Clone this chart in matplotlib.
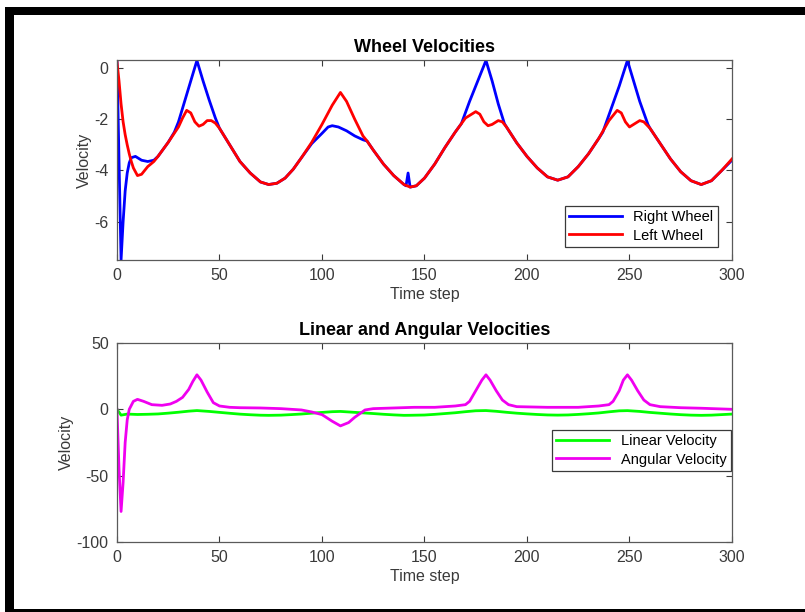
import matplotlib
matplotlib.use('Agg')
from matplotlib import pyplot as plt
from matplotlib.patches import Rectangle

# wheel velocities
t_left = [0, 1, 2, 3, 4, 5, 6, 7, 8, 10, 12, 15, 18, 20, 25, 30, 32, 34, 36, 38,
          40, 42, 44, 46, 48, 50, 55, 60, 65, 70, 74, 78, 82, 86, 90, 95, 100,
          105, 109, 112, 116, 120, 122, 125, 130, 135, 140, 143, 146, 150, 155,
          160, 165, 170, 175, 177, 179, 181, 183, 186, 188, 190, 195, 200, 205,
          210, 215, 220, 225, 230, 235, 240, 244, 246, 248, 250, 252, 255, 257,
          260, 265, 270, 275, 280, 285, 290, 295, 300]
v_left = [0.25, -0.5, -1.4, -2.1, -2.6, -3.0, -3.35, -3.65, -3.9, -4.2, -4.15,
          -3.85, -3.65, -3.45, -2.9, -2.3, -1.95, -1.65, -1.75, -2.1, -2.27,
          -2.2, -2.05, -2.05, -2.15, -2.35, -3.0, -3.65, -4.1, -4.45, -4.55,
          -4.5, -4.3, -3.95, -3.5, -2.9, -2.2, -1.45, -0.95, -1.3, -2.0, -2.65,
          -2.85, -3.2, -3.75, -4.2, -4.55, -4.65, -4.6, -4.3, -3.75, -3.1,
          -2.5, -1.95, -1.7, -1.8, -2.1, -2.25, -2.2, -2.05, -2.1, -2.3,
          -2.92, -3.45, -3.9, -4.25, -4.38, -4.25, -3.85, -3.35, -2.75, -2.05,
          -1.65, -1.75, -2.1, -2.3, -2.2, -2.05, -2.1, -2.35, -2.95, -3.55,
          -4.05, -4.4, -4.55, -4.4, -4.0, -3.55]

t_right = [0, 2, 3, 4, 5, 6, 7, 9, 12, 15, 18, 20, 25, 28, 30, 33, 36, 39, 42,
           45, 48, 50, 55, 60, 65, 70, 74, 78, 82, 86, 90, 95, 100, 103, 105,
           108, 112, 116, 120, 122, 125, 130, 135, 140, 141, 142, 143, 146,
           150, 155, 160, 165, 168, 172, 176, 180, 183, 186, 189, 190, 195,
           200, 205, 210, 215, 220, 225, 230, 235, 237, 241, 245, 249, 252,
           255, 259, 260, 265, 270, 275, 280, 285, 290, 295, 300]
v_right = [0.3, -7.5, -6.0, -4.8, -4.1, -3.7, -3.5, -3.45, -3.6, -3.65, -3.6,
           -3.45, -2.9, -2.5, -2.1, -1.3, -0.5, 0.3, -0.5, -1.25, -1.95,
           -2.35, -3.0, -3.65, -4.1, -4.45, -4.55, -4.5, -4.3, -3.95, -3.5,
           -2.95, -2.55, -2.3, -2.25, -2.3, -2.45, -2.65, -2.8, -2.85, -3.2,
           -3.75, -4.2, -4.55, -4.6, -4.1, -4.65, -4.6, -4.3, -3.75, -3.1,
           -2.5, -2.17, -1.3, -0.5, 0.3, -0.5, -1.4, -2.17, -2.3, -2.92,
           -3.45, -3.9, -4.25, -4.38, -4.25, -3.85, -3.35, -2.75, -2.5, -1.6,
           -0.7, 0.3, -0.5, -1.3, -2.2, -2.35, -2.95, -3.55, -4.05, -4.4,
           -4.55, -4.4, -4.0, -3.6]

# linear / angular velocities
t_lin = [0, 2, 5, 10, 15, 20, 25, 30, 35, 39, 45, 50, 55, 60, 65, 70, 74, 80,
         85, 90, 95, 100, 105, 109, 115, 120, 125, 130, 135, 140, 143, 150,
         155, 160, 165, 170, 175, 180, 185, 190, 195, 200, 205, 210, 215, 220,
         225, 230, 235, 240, 245, 249, 255, 260, 265, 270, 275, 280, 285, 290,
         295, 300]
v_lin = [0, -4.4, -3.6, -3.9, -3.75, -3.5, -2.9, -2.2, -1.4, -0.95, -1.6,
         -2.3, -3.0, -3.65, -4.1, -4.45, -4.55, -4.4, -4.0, -3.55, -2.9,
         -2.35, -1.8, -1.6, -2.2, -2.7, -3.2, -3.75, -4.2, -4.55, -4.5, -4.3,
         -3.8, -3.2, -2.6, -1.8, -1.1, -0.95, -1.5, -2.25, -2.92, -3.45, -3.9,
         -4.25, -4.38, -4.25, -3.85, -3.35, -2.75, -1.9, -1.15, -1.0, -1.6,
         -2.35, -2.95, -3.55, -4.05, -4.4, -4.55, -4.4, -4.0, -3.6]

t_ang = [0, 1, 2, 3, 4, 5, 6, 8, 10, 13, 17, 22, 26, 29, 32, 35, 37, 39, 41,
         44, 47, 50, 55, 60, 70, 80, 90, 95, 100, 105, 109, 113, 116, 121,
         125, 135, 145, 155, 165, 170, 172, 175, 178, 180, 182, 185, 188, 191,
         195, 210, 225, 235, 240, 242, 245, 247, 249, 251, 254, 257, 260, 265,
         275, 285, 300]
v_ang = [0, -45, -77, -55, -25, -8, 0, 6, 7.5, 6, 3.5, 3, 4, 6, 9, 15, 21, 26,
         22, 13, 5, 2.5, 1.5, 1.2, 1, 0.5, -0.5, -2, -4, -9, -12.5, -10, -6,
         -0.5, 0.5, 1, 1.5, 1.5, 2.5, 3.5, 6, 14, 22, 26, 22, 14, 7, 3.5, 2,
         1.5, 1.5, 2.5, 3.5, 6, 14, 22, 26, 22, 14, 7, 3.5, 2, 1.2, 0.8, 0]

plt.rcParams['font.family'] = ['Liberation Sans', 'DejaVu Sans']
plt.rcParams['font.size'] = 11.5
plt.rcParams['axes.unicode_minus'] = False

fig = plt.figure(figsize=(8.05, 6.12), dpi=100)
ax1 = fig.add_axes([0.1453, 0.5752, 0.764, 0.3268])
ax2 = fig.add_axes([0.1453, 0.1144, 0.764, 0.3252])

axis_grey = '#3a3a3a'
for ax in (ax1, ax2):
    ax.tick_params(direction='in', top=True, right=True, length=4,
                   width=0.8, colors=axis_grey, pad=6, labelsize=11.5)
    for s in ax.spines.values():
        s.set_color('#5a5a5a')
        s.set_linewidth(0.9)
    ax.set_xlim(0, 300)
    ax.set_xticks([0, 50, 100, 150, 200, 250, 300])
    ax.set_xlabel('Time step', color=axis_grey, labelpad=3)
    ax.set_ylabel('Velocity', color=axis_grey, labelpad=2)

ax1.plot(t_right, v_right, color='#0000ff', lw=2, label='Right Wheel')
ax1.plot(t_left, v_left, color='#ff0000', lw=2, label='Left Wheel')
ax1.set_ylim(-7.5, 0.32)
ax1.set_yticks([0, -2, -4, -6])
ax1.set_title('Wheel Velocities', fontweight='bold', fontsize=13, pad=6)
leg = ax1.legend(loc='lower right', bbox_to_anchor=(0.977, 0.065),
                 borderaxespad=0, fontsize=10.5, handlelength=3.6,
                 borderpad=0.3, labelspacing=0.3, fancybox=False,
                 edgecolor='#3a3a3a', framealpha=1)
leg.get_frame().set_linewidth(0.9)

ax2.plot(t_lin, v_lin, color='#00ff00', lw=2, label='Linear Velocity')
ax2.plot(t_ang, v_ang, color='#f000f0', lw=2, label='Angular Velocity')
ax2.set_ylim(-100, 50)
ax2.set_yticks([-100, -50, 0, 50])
ax2.set_title('Linear and Angular Velocities', fontweight='bold',
              fontsize=13, pad=6)
leg = ax2.legend(loc='lower right', bbox_to_anchor=(0.998, 0.357),
                 borderaxespad=0, fontsize=10.5, handlelength=3.6,
                 borderpad=0.3, labelspacing=0.3, fancybox=False,
                 edgecolor='#3a3a3a', framealpha=1)
leg.get_frame().set_linewidth(0.9)

# black frame around the figure (left, top, bottom bars)
W, H = 805.0, 612.0
for x0, y0, w, h in [(5, 7, 9, 605), (5, 7, 800, 8), (5, 609, 800, 3)]:
    fig.add_artist(Rectangle((x0 / W, 1 - (y0 + h) / H), w / W, h / H,
                             transform=fig.transFigure, color='black', lw=0))

fig.savefig('out.png', dpi=100)
